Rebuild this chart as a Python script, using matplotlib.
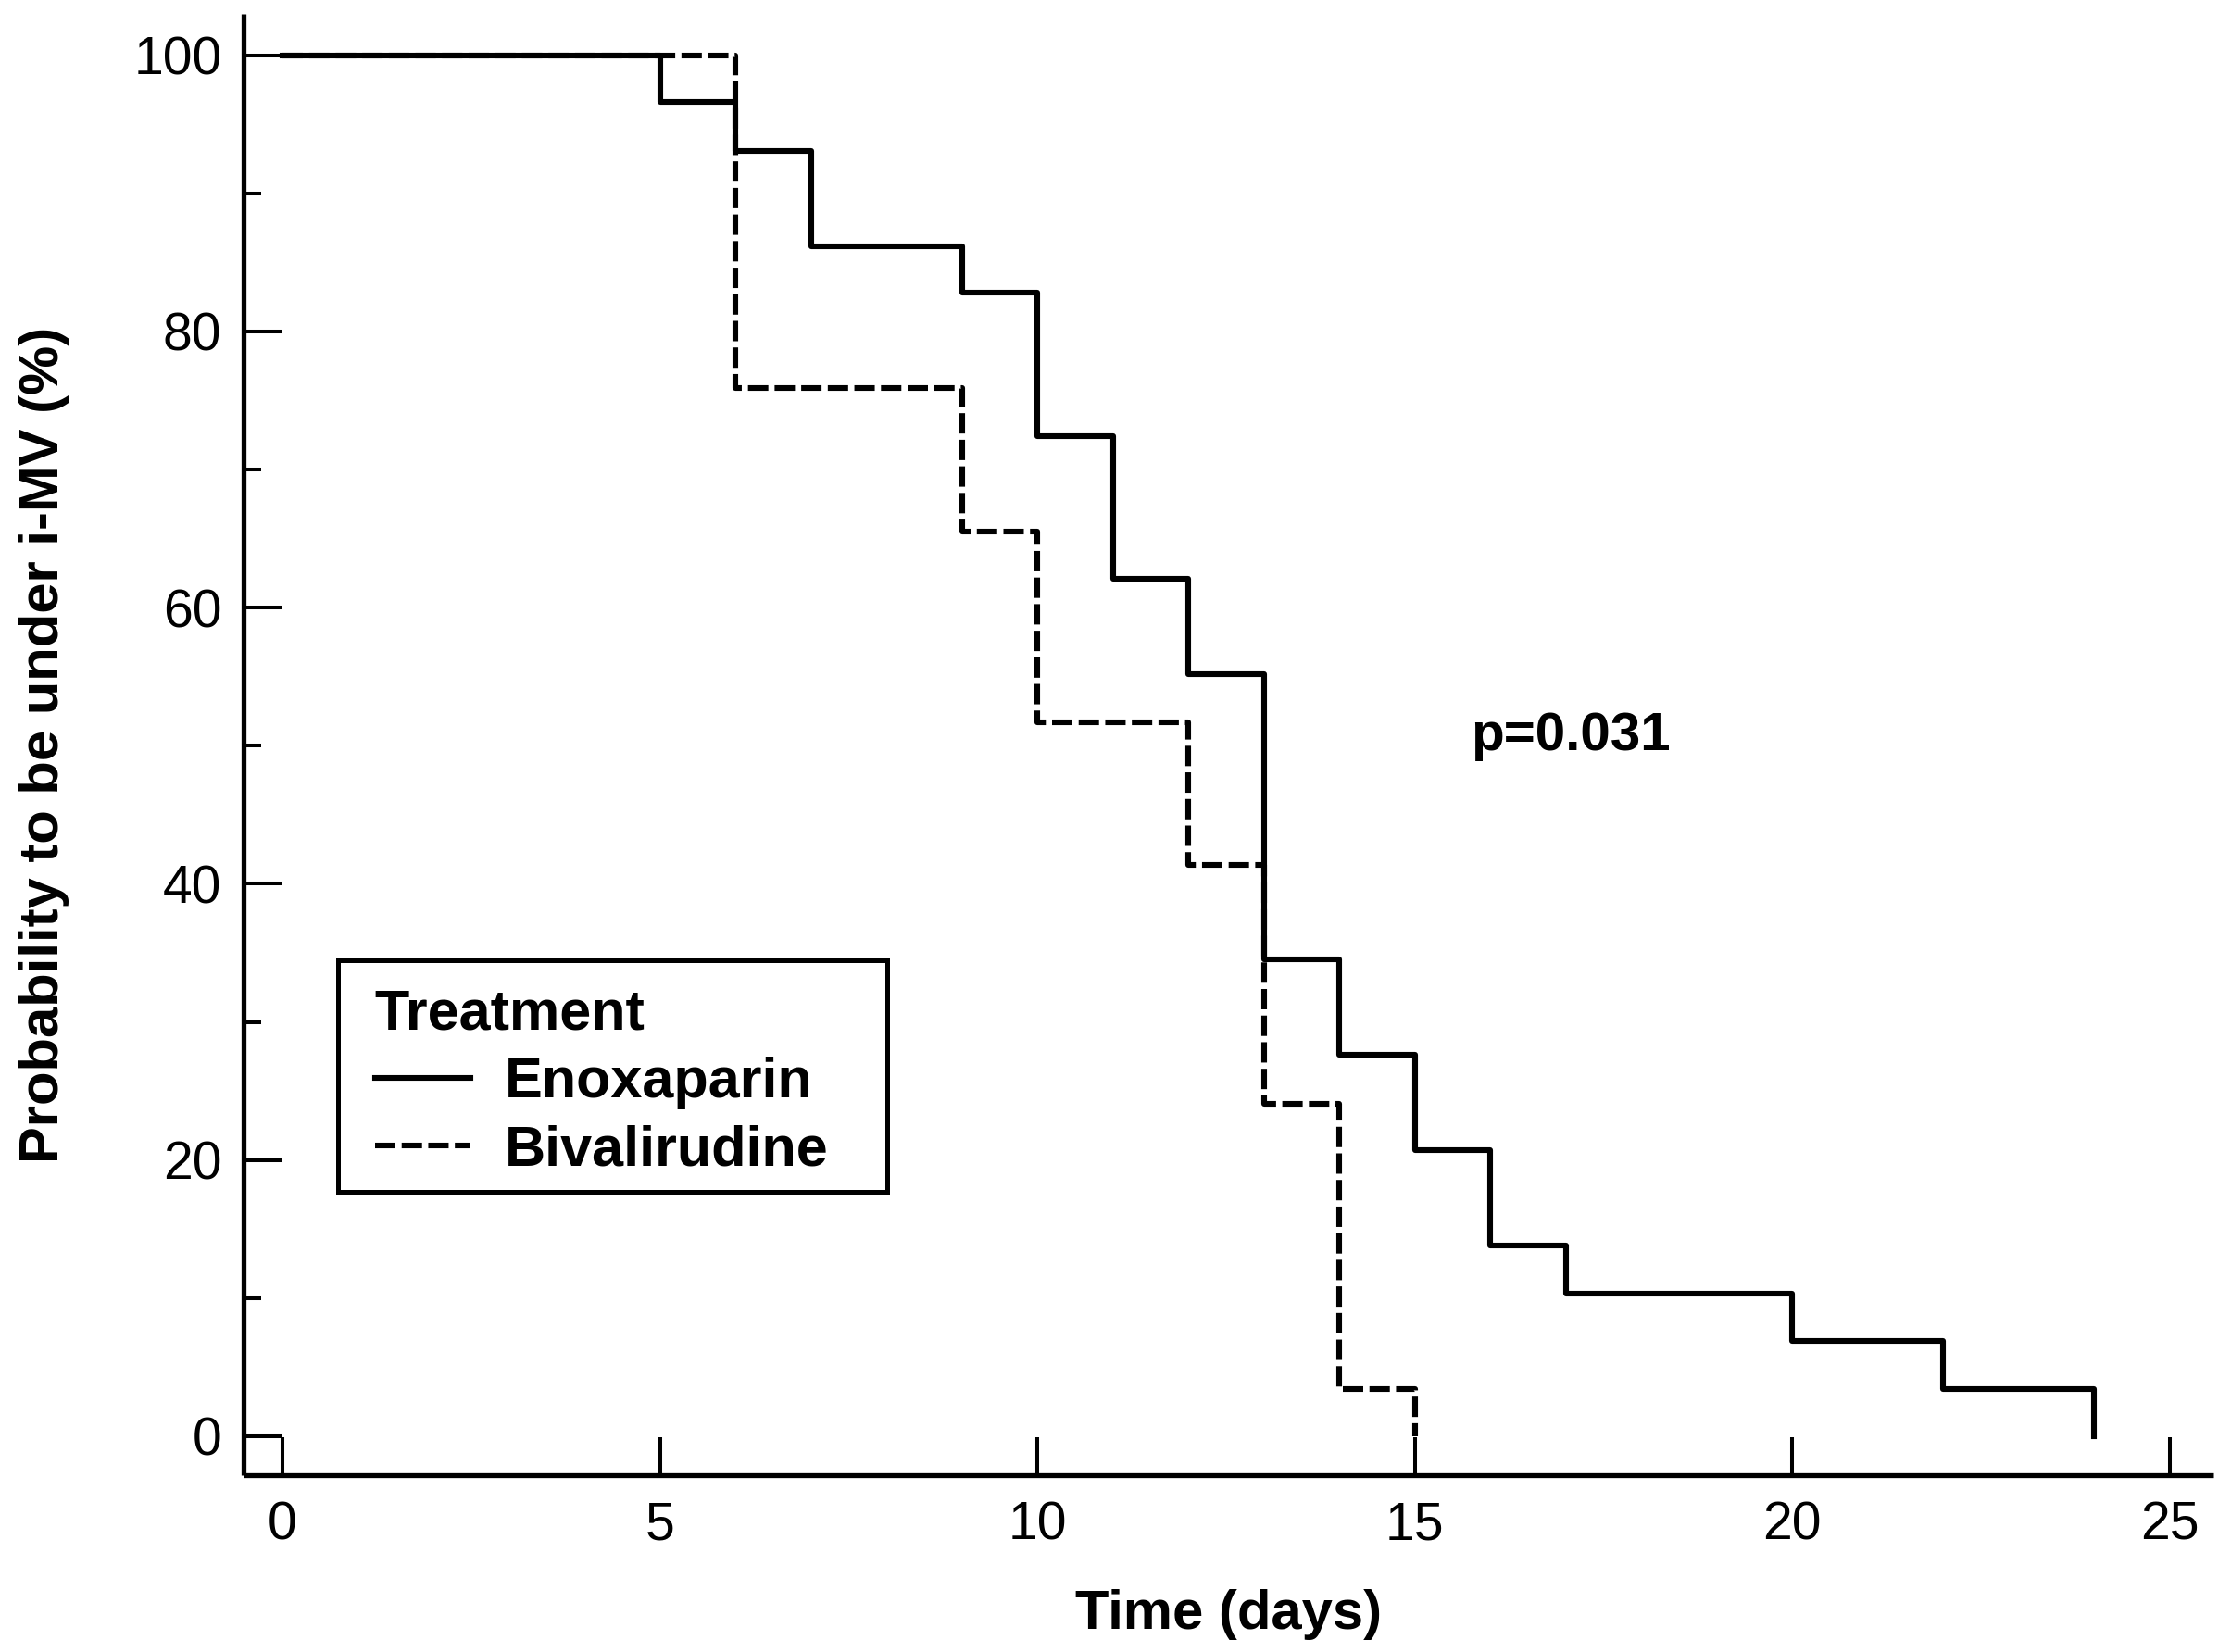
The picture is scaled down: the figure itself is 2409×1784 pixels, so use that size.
import matplotlib
matplotlib.use("Agg")
import matplotlib.pyplot as plt
from matplotlib.patches import Rectangle
from matplotlib.ticker import MultipleLocator

# Kaplan-Meier steps (29 patients per arm)
enox_days = [0, 5, 6, 7, 9, 10, 11, 12, 13, 14, 15, 16, 17, 20, 22, 24]
enox_prob = [100, 96.6, 93.1, 86.2, 82.8, 72.4, 62.1, 55.2, 34.5, 27.6,
             20.7, 13.8, 10.3, 6.9, 3.4, 0]

biv_days = [0, 6, 9, 10, 12, 13, 14, 15]
biv_prob = [100, 75.9, 65.5, 51.7, 41.4, 24.1, 3.4, 0]

x_ticks = [0, 5, 10, 15, 20, 25]
y_ticks = [0, 20, 40, 60, 80, 100]
p_text = "p=0.031"

plt.rcParams["font.family"] = ["Liberation Sans", "DejaVu Sans"]

fig = plt.figure(figsize=(24.09, 17.84), dpi=100)
ax = fig.add_axes([0.1092, 0.1071, 0.8829, 0.8845])

lw = 4.4
ax.step(biv_days, biv_prob, where="post", color="black", lw=lw,
        linestyle=(0, (3.6, 1.1)), label="Bivalirudine")
ax.step(enox_days, enox_prob, where="post", color="black", lw=lw,
        label="Enoxaparin")

ax.set_xlim(-0.515, 25.58)
ax.set_ylim(-2.82, 103)

ax.spines["top"].set_visible(False)
ax.spines["right"].set_visible(False)
for s in ("left", "bottom"):
    ax.spines[s].set_linewidth(3.8)
    ax.spines[s].set_capstyle("butt")

ax.set_xticks(x_ticks)
ax.set_yticks(y_ticks)
ax.yaxis.set_minor_locator(MultipleLocator(10))
ax.tick_params(which="major", direction="in", length=29.5, width=2.9,
               labelsize=41)
ax.tick_params(which="minor", direction="in", length=14, width=2.9)
ax.tick_params(axis="x", pad=20)
ax.tick_params(axis="y", pad=17)

ax.set_xlabel("Time (days)", fontsize=43, fontweight="bold", labelpad=30)
ax.set_ylabel("Probability to be under i-MV (%)", fontsize=43,
              fontweight="bold", labelpad=50)

ax.text(15.74, 49.7, p_text, fontsize=42, fontweight="bold",
        ha="left", va="baseline")

# legend frame drawn separately so its size matches the original box
box = Rectangle((0.048, 0.194), 0.2788, 0.158, transform=ax.transAxes,
                facecolor="white", edgecolor="black", lw=3.6, zorder=4)
ax.add_patch(box)

handles, labels = ax.get_legend_handles_labels()
leg = ax.legend(handles[::-1], labels[::-1], title="Treatment",
                loc="upper left", bbox_to_anchor=(0.0665, 0.333),
                borderaxespad=0, borderpad=0, frameon=False,
                prop={"weight": "bold", "size": 44},
                title_fontproperties={"weight": "bold", "size": 44},
                alignment="left", handlelength=1.7, handletextpad=0.6,
                labelspacing=0.27)
leg.set_zorder(5)

fig.savefig("out.png", dpi=100, facecolor="white")
